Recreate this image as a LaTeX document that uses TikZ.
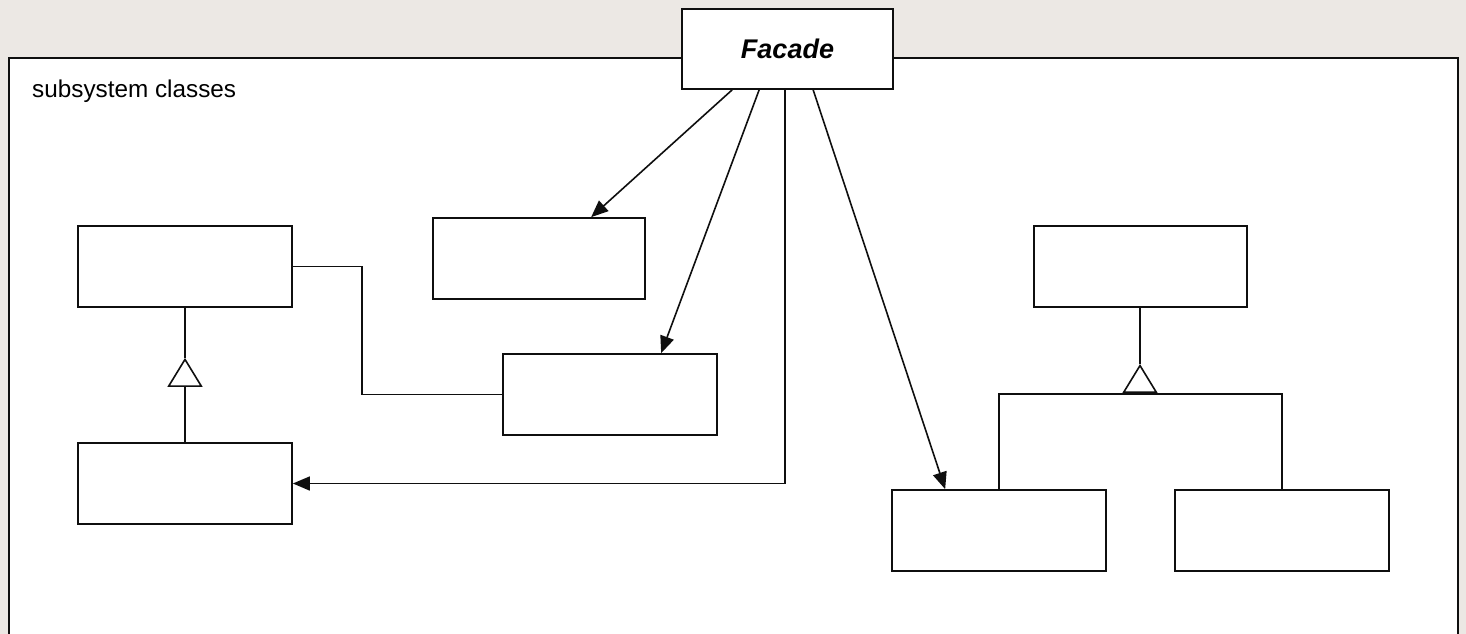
\documentclass[tikz,border=0pt]{standalone}
\usepackage{fontspec}
\setmainfont{Liberation Sans}
\usetikzlibrary{arrows.meta,calc}
\definecolor{bgc}{RGB}{236,232,228}
\definecolor{ln}{RGB}{15,15,15}
\tikzset{
  cls/.style={draw=ln,fill=white,line width=1.7pt,minimum width=214pt,minimum height=81pt,inner sep=0pt},
  conn/.style={draw=ln,line width=1.6pt},
  arr/.style={conn,-{Triangle[length=17pt,width=14pt]}},
  gen/.style={conn,-{Triangle[open,length=29pt,width=35pt,fill=white]}}
}
\begin{document}
\begin{tikzpicture}[x=1pt,y=-1pt]
\clip (0,0) rectangle (1466,634);
\useasboundingbox (0,0) rectangle (1466,634);
\fill[bgc] (0,0) rectangle (1466,634);
\draw[draw=ln,fill=white,line width=1.7pt] (9,58) rectangle (1458,680);
\node[font=\fontsize{24.3}{28}\selectfont,anchor=base west,inner sep=0pt] (lbl) at (32,97) {subsystem classes};
\node[cls,minimum width=211pt,minimum height=80pt] (facade) at (787.5,49) {\fontsize{27}{30}\selectfont\bfseries\itshape Facade};
\node[cls] (A) at (185,266.5) {};
\node[cls,minimum width=212pt] (B) at (539,258.5) {};
\node[cls] (C) at (610,394.5) {};
\node[cls] (D) at (185,483.5) {};
\node[cls,minimum width=213pt] (E) at (1140.5,266.5) {};
\node[cls] (F) at (999,530.5) {};
\node[cls] (G) at (1282,530.5) {};
% facade associations
\draw[arr] ($(facade.south west)+(51,0)$) -- ($(B.north west)+(159,0)$);
\draw[arr] ($(facade.south west)+(78,0)$) -- ($(C.north west)+(159,0)$);
\draw[arr] ($(facade.south west)+(104,0)$) |- (D.east);
\draw[arr] ($(facade.south west)+(132,0)$) -- ($(F.north west)+(54,0)$);
% association A-C
\draw[conn] (A.east) -- ++(69,0) |- (C.west);
% generalization A-D
\coordinate (tA) at ($(A.south)+(0,50)$);
\draw[conn] (A.south) -- (tA);
\draw[gen] (D.north) -- (tA);
% generalization E - F,G
\coordinate (tE) at (1140,364);
\coordinate (bar) at (1140,394);
\draw[conn] (E.south -| tE) -- (tE);
\draw[conn] (F.north) -- (F.north |- bar) -- (G.north |- bar) -- (G.north);
\draw[gen] (bar) -- (tE);
\end{tikzpicture}
\end{document}
